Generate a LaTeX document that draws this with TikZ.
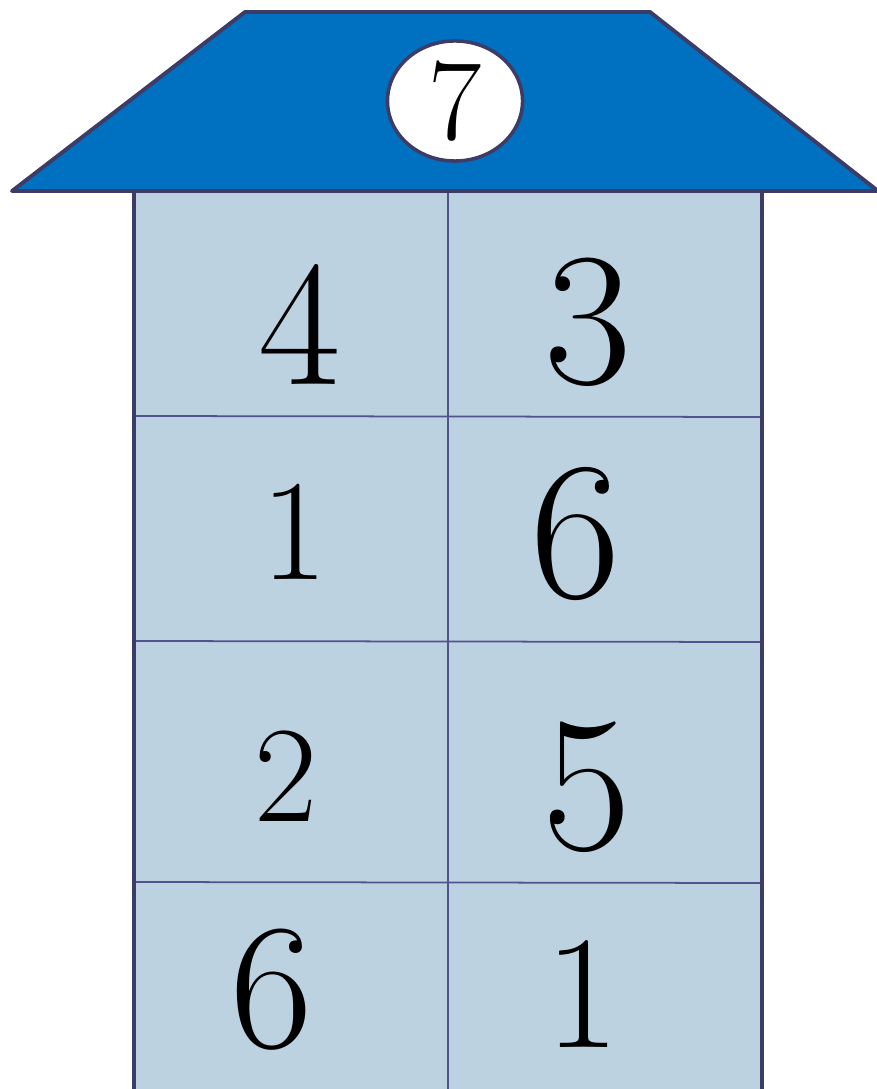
\documentclass[tikz,border=0pt]{standalone}
\usepackage{tikz}
\usetikzlibrary{shapes.geometric, positioning}
\definecolor{roofblue}{HTML}{0070C0}
\definecolor{wallblue}{HTML}{BDD2E0}
\definecolor{edgedark}{HTML}{3C3C66}
\definecolor{gridline}{HTML}{52528E}

\begin{document}
\begin{tikzpicture}[
    x=0.01cm, y=-0.01cm,
    roof_shape/.style={fill=roofblue, draw=edgedark, line width=1.1pt, line join=round},
    wall_shape/.style={fill=wallblue},
    wall_edge/.style={draw=edgedark, line width=1.1pt},
    cell_line/.style={draw=gridline, line width=0.5pt},
    top_node/.style={ellipse, fill=white, draw=edgedark, line width=1pt, minimum width=1.35cm, minimum height=1.2cm, inner sep=0pt},
    digit/.style={inner sep=0pt, anchor=center}
]
\useasboundingbox (0,0) rectangle (877,1089);

% Wall
\fill[wall_shape] (134,191) rectangle (762,1095);
\draw[cell_line] (448,191) -- (448,1095);
\draw[cell_line] (134,416) -- (762,417);
\draw[cell_line] (134,641) -- (762,642);
\draw[cell_line] (134,882) -- (762,883);
\draw[wall_edge] (134,191) -- (134,1095);
\draw[wall_edge] (762,191) -- (762,1095);

% Roof
\draw[roof_shape] (12,191) -- (245,12) -- (650,12) -- (878,191) -- cycle;
\node[top_node] (top) at (455,101) {\fontsize{33}{33}\selectfont 7};

% Numbers
\node[digit] (a1) at (300,325) {\fontsize{51}{51}\selectfont 4};
\node[digit] (b1) at (588,322) {\fontsize{54}{54}\selectfont 3};
\node[digit] (a2) at (295,532) {\fontsize{41}{41}\selectfont 1};
\node[digit] (b2) at (576,534) {\fontsize{56}{56}\selectfont 6};
\node[digit] (a3) at (286,776) {\fontsize{39}{39}\selectfont 2};
\node[digit] (b3) at (587,787) {\fontsize{55}{55}\selectfont 5};
\node[digit] (a4) at (272,990) {\fontsize{51}{51}\selectfont 6};
\node[digit] (b4) at (583,994) {\fontsize{46}{46}\selectfont 1};

\end{tikzpicture}
\end{document}
